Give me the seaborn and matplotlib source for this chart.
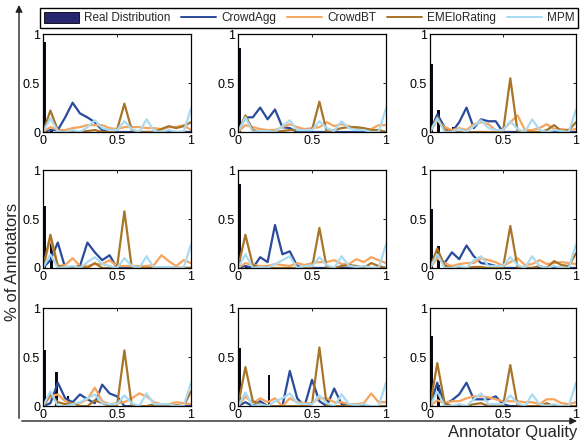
import numpy as np
import pandas as pd
import matplotlib
matplotlib.use("Agg")
import matplotlib.pyplot as plt
import seaborn as sns
from matplotlib.patches import Patch, FancyArrowPatch
from matplotlib.lines import Line2D

# ---------------- data ----------------
quality = [0.0, 0.05, 0.1, 0.15, 0.2, 0.25, 0.3, 0.35, 0.4, 0.45, 0.5,
           0.55, 0.6, 0.65, 0.7, 0.75, 0.8, 0.85, 0.9, 0.95, 1.0]

methods = ["CrowdAgg", "CrowdBT", "EMEloRating", "MPM"]

crowdagg = [
    [0, .02, .02, .15, .30, .19, .15, .10, .02, 0, 0, 0, 0, 0, 0, 0, 0, 0, 0, 0, 0],
    [0, .15, .15, .25, .13, .23, .05, .04, 0, 0, 0, 0, 0, 0, 0, 0, 0, 0, 0, 0, 0],
    [0, .18, .05, 0, .10, .25, .04, .13, .11, .11, 0, 0, 0, 0, 0, 0, 0, 0, 0, 0, 0],
    [0, .08, .26, 0, 0, .02, .26, .16, .08, .13, 0, 0, 0, 0, 0, 0, 0, 0, 0, 0, 0],
    [0, .02, 0, .11, .06, .44, .14, .17, .02, 0, 0, 0, 0, 0, 0, 0, 0, 0, 0, 0, 0],
    [0, .13, .05, .16, .09, .23, .12, .05, .04, .02, 0, 0, 0, 0, 0, 0, 0, 0, 0, 0, 0],
    [0, .03, .24, .08, .04, .12, .07, .03, .22, .13, .10, 0, 0, 0, 0, 0, 0, 0, 0, 0, 0],
    [0, .04, 0, .05, 0, 0, 0, .36, .08, 0, .27, .05, 0, .18, .02, 0, 0, 0, 0, 0, 0],
    [0, .24, .02, .06, .12, .24, .07, .07, .07, .10, .02, 0, 0, 0, 0, 0, 0, 0, 0, 0, 0],
]

crowdbt = [
    [0, .05, .02, .02, .04, .05, .07, .07, .07, .04, .03, .05, .05, .05, .04, .04, .03, .05, .05, .07, .02],
    [0, .07, .05, .03, .02, .02, .05, .08, .05, .03, .04, .05, .10, .06, .08, .06, .03, .03, .03, .07, .07],
    [0, .12, .05, .02, .04, .02, .08, .10, .08, .02, .02, .10, .17, .02, .02, .04, .08, .03, .03, .02, .03],
    [0, .30, .02, .03, .10, .02, .02, .04, .04, .08, .02, .02, .02, .02, .02, .03, .13, .07, .02, .08, .05],
    [0, .05, .03, .02, .02, .04, .03, .02, .05, .03, .05, .06, .06, .08, .04, .04, .09, .06, .11, .08, .05],
    [0, .10, .05, .02, .04, .05, .05, .10, .08, .06, .02, .06, .10, .03, .04, .08, .04, .05, .06, .05, .04],
    [0, .10, .12, .05, .02, .03, .07, .19, .05, .02, .03, .04, .08, .13, .10, .04, .02, .02, .04, .03, .02],
    [0, .10, .03, .08, .04, .08, 0, .08, .04, .03, .03, .08, .08, .04, .04, .02, .02, .03, .13, .04, .04],
    [0, .06, .03, .05, .05, .08, .10, .10, .09, .07, .05, .05, .05, .04, .04, .02, .07, .07, .03, .02, .04],
]

emelo = [
    [0, .22, .02, 0, 0, 0, .01, .02, 0, 0, .02, .29, .02, 0, 0, 0, .03, .06, .04, .06, .10],
    [0, .17, .02, 0, 0, 0, .01, .02, .02, .02, .02, .31, 0, .02, .04, .05, .05, .04, .02, .02, 0],
    [0, .15, .02, 0, 0, 0, 0, 0, 0, 0, 0, .55, 0, 0, 0, 0, .02, .07, .01, .02, .10],
    [0, .34, .02, .01, 0, .02, 0, .05, 0, 0, 0, .58, 0, 0, 0, 0, 0, 0, 0, 0, 0],
    [0, .34, .03, 0, 0, 0, 0, 0, 0, 0, 0, .41, 0, 0, .02, .03, .02, 0, .05, .02, 0],
    [0, .20, .02, 0, 0, 0, .01, .01, 0, 0, 0, .43, 0, 0, 0, .02, 0, .07, .03, .02, .15],
    [0, .12, .04, .02, .03, 0, 0, .06, .03, 0, 0, .57, 0, 0, 0, .02, 0, 0, .01, 0, .15],
    [0, .40, .05, .02, 0, 0, 0, 0, 0, 0, .02, .60, 0, 0, 0, 0, 0, 0, 0, 0, 0],
    [0, .44, .03, 0, 0, 0, .02, .03, 0, 0, 0, .42, 0, 0, 0, 0, .03, 0, 0, 0, 0],
]

mpm = [
    [0, .14, .01, 0, .02, 0, .05, .12, .04, .02, .02, .11, .03, 0, .13, .01, 0, .02, 0, 0, .24],
    [0, .15, 0, .01, .01, 0, .06, .12, .02, .02, .02, .11, .04, .01, .11, .04, .02, .02, 0, 0, .24],
    [0, .14, 0, 0, .03, 0, .06, .12, .04, .02, .02, .11, .03, 0, .13, .02, 0, .02, .01, 0, .23],
    [0, .14, 0, .01, .02, 0, .06, .11, .04, .02, 0, .10, .02, 0, .12, 0, .01, .01, 0, 0, .24],
    [0, .14, 0, .01, 0, .04, .08, .12, 0, .02, .02, .11, .03, 0, .12, .02, .01, .02, 0, 0, .24],
    [0, .14, 0, 0, .02, 0, .08, .12, .02, .02, .02, .11, .03, 0, .12, .02, 0, .02, 0, 0, .24],
    [0, .15, 0, 0, .02, .04, .08, .12, .03, .02, .02, .11, .03, 0, .13, .02, .02, .02, 0, 0, .24],
    [0, .14, 0, .02, 0, .05, .08, .13, .03, .02, .02, .11, .03, 0, .12, .02, .01, .02, 0, 0, .24],
    [0, .15, 0, 0, .02, 0, .07, .13, .02, .02, .02, .11, .03, 0, .12, .02, 0, .02, 0, 0, .24],
]

# Real distribution: bar positions and heights per panel
real_pos = [
    [0.0, 0.05],
    [0.0],
    [0.0, 0.05, 0.15],
    [0.0, 0.05, 0.1],
    [0.0, 0.05],
    [0.0, 0.05, 0.1],
    [0.0, 0.08, 0.16],
    [0.0, 0.2, 0.6],
    [0.0, 0.05],
]
real_val = [
    [0.92, 0.03],
    [0.86],
    [0.70, 0.23, 0.05],
    [0.63, 0.28, 0.02],
    [0.86, 0.02],
    [0.60, 0.22, 0.03],
    [0.57, 0.35, 0.10],
    [0.60, 0.32, 0.08],
    [0.72, 0.22],
]

tick_vals = [0, 0.5, 1]
tick_labels = ["0", "0.5", "1"]

# ---------------- style ----------------
sns.set_style("white")
plt.rcParams["font.family"] = ["Liberation Sans", "DejaVu Sans"]

palette = {"CrowdAgg": "#2a4b9b", "CrowdBT": "#f7a55e",
           "EMEloRating": "#a87528", "MPM": "#a9dbf2"}
bar_color = "#0a0a18"
legend_patch_color = "#26266e"

fig = plt.figure(figsize=(5.81, 4.40), dpi=100)

lefts = [43 / 581, 238 / 581, 430 / 581]
widths = [148 / 581, 148 / 581, 146 / 581]
bottoms = [0.700, 0.391, 0.077]
h = 0.222

series = {"CrowdAgg": crowdagg, "CrowdBT": crowdbt,
          "EMEloRating": emelo, "MPM": mpm}

for k in range(9):
    r, c = divmod(k, 3)
    ax = fig.add_axes([lefts[c], bottoms[r], widths[c], h])
    ax.bar(real_pos[k], real_val[k], width=0.018, align="edge",
           color=bar_color, linewidth=0, zorder=1)
    rows = []
    for m in methods:
        for q, v in zip(quality, series[m][k]):
            rows.append({"quality": q, "value": v, "method": m})
    df = pd.DataFrame(rows)
    sns.lineplot(data=df, x="quality", y="value", hue="method",
                 hue_order=methods, palette=palette, estimator=None,
                 sort=False, legend=False, linewidth=1.6, ax=ax, zorder=2)
    ax.set_xlim(0, 1)
    ax.set_ylim(0, 1)
    ax.set_xticks(tick_vals)
    ax.set_xticklabels(tick_labels)
    ax.set_yticks(tick_vals)
    ax.set_yticklabels(tick_labels)
    ax.set_xlabel("")
    ax.set_ylabel("")
    ax.tick_params(direction="in", top=True, right=True, length=2.5,
                   width=0.6, labelsize=9, pad=2, colors="black")
    for s in ax.spines.values():
        s.set_color("black")
        s.set_linewidth(0.9)
        s.set_visible(True)

# Outer arrows
x0, y0 = 19 / 581, 1 - 421 / 440
fig.add_artist(FancyArrowPatch((x0, y0), (x0, 0.995), transform=fig.transFigure,
                               arrowstyle="-|>", mutation_scale=10, lw=1.0,
                               color="#222222"))
fig.add_artist(FancyArrowPatch((x0, y0), (0.998, y0), transform=fig.transFigure,
                               arrowstyle="-|>", mutation_scale=10, lw=1.0,
                               color="#222222"))

fig.text(0.022, 0.405, "% of Annotators", rotation=90, ha="center",
         va="center", fontsize=12)
fig.text(0.993, 0.018, "Annotator Quality", ha="right", va="center",
         fontsize=12)

# Legend
handles = [Patch(facecolor=legend_patch_color, edgecolor="black", linewidth=0.6)]
labels = ["Real Distribution"]
for m in methods:
    handles.append(Line2D([], [], color=palette[m], linewidth=1.4))
    labels.append(m)
leg = fig.legend(handles, labels, loc="lower left", ncol=5, mode="expand",
                 bbox_to_anchor=(40 / 581, 1 - 28 / 440, 538 / 581, 22 / 440),
                 fontsize=8.5, frameon=True, fancybox=False, framealpha=1,
                 edgecolor="black", handlelength=3.0, handleheight=1.1,
                 handletextpad=0.4, columnspacing=0.6, borderpad=0.3,
                 borderaxespad=0)
leg.get_frame().set_linewidth(1.0)

fig.savefig("out.png", dpi=100)
